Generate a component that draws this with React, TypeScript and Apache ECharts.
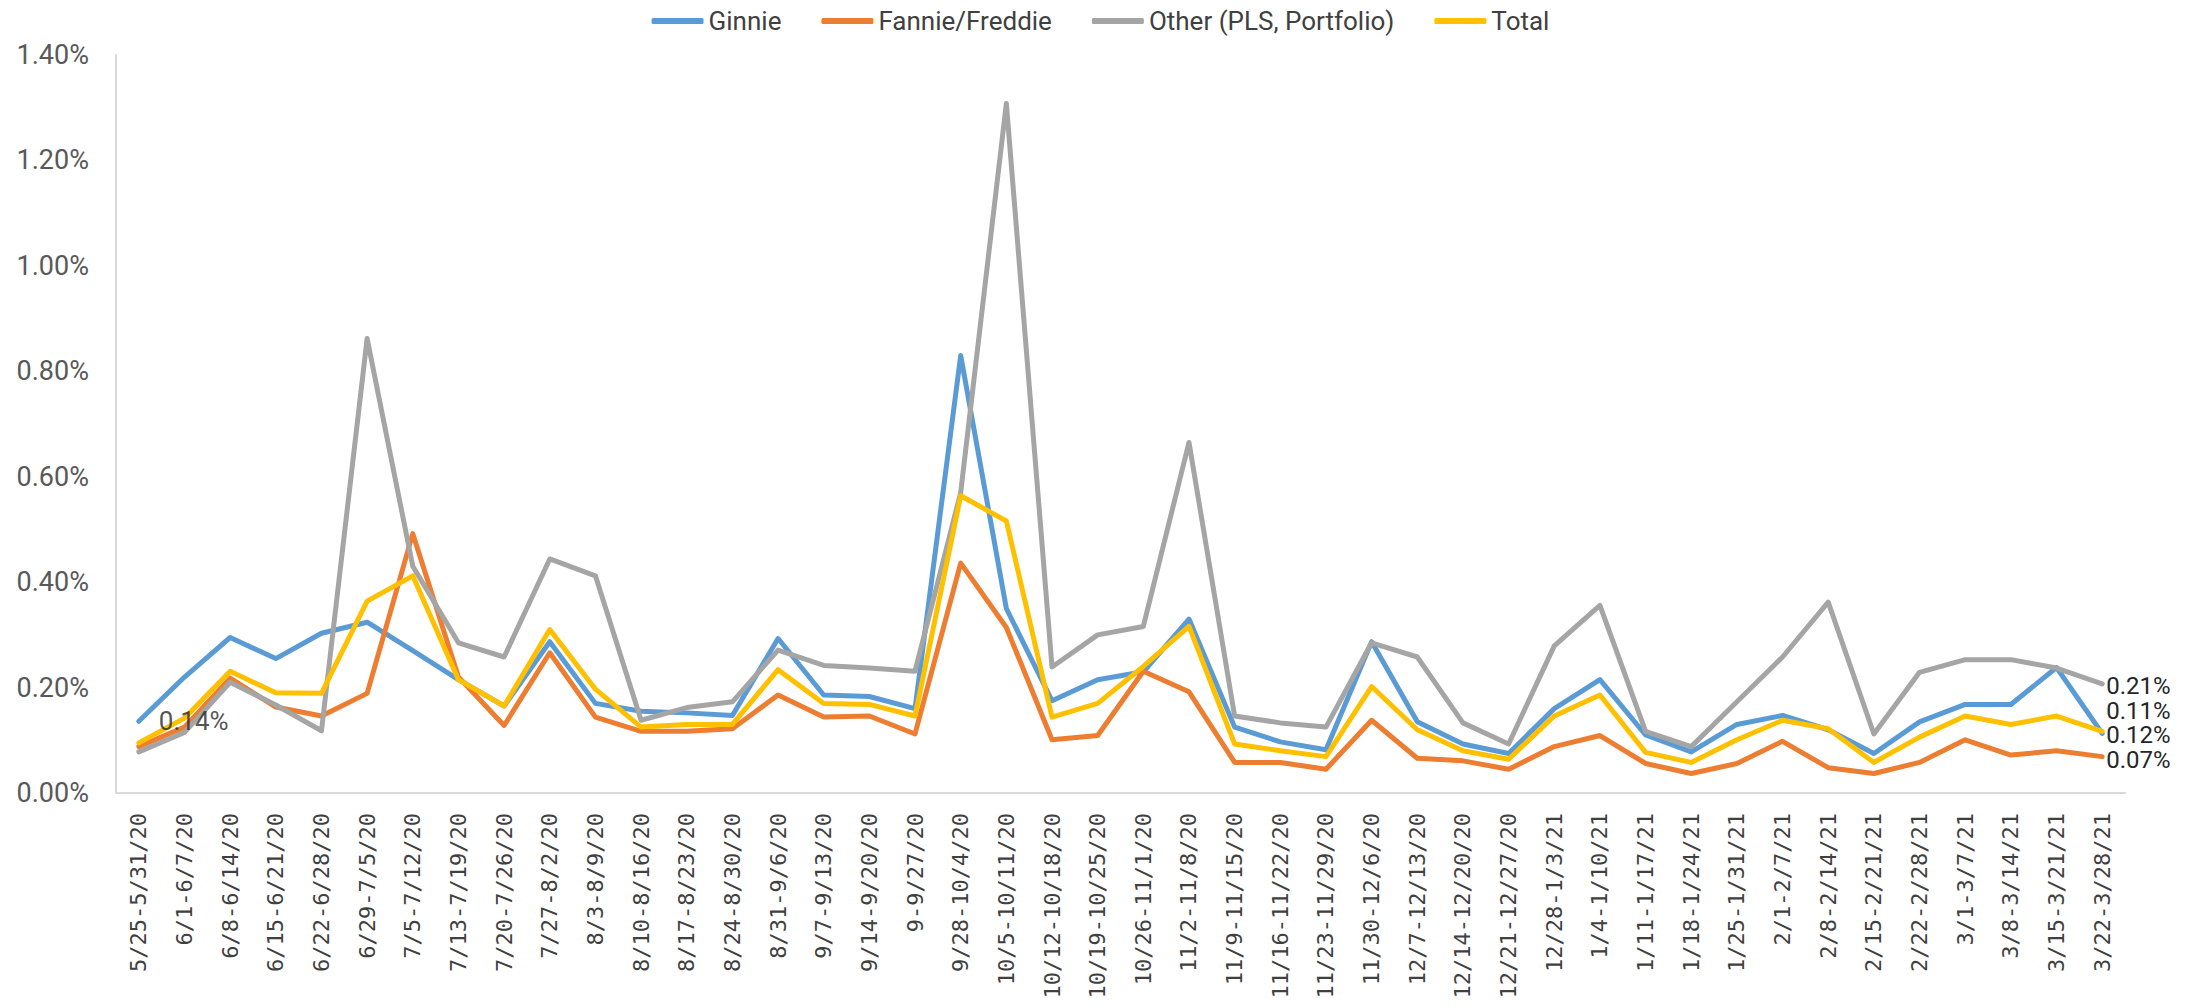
import React, { useEffect, useRef } from "react";
import * as echarts from "echarts";

const categories = [
  "5/25-5/31/20", "6/1-6/7/20", "6/8-6/14/20", "6/15-6/21/20", "6/22-6/28/20",
  "6/29-7/5/20", "7/5-7/12/20", "7/13-7/19/20", "7/20-7/26/20", "7/27-8/2/20",
  "8/3-8/9/20", "8/10-8/16/20", "8/17-8/23/20", "8/24-8/30/20", "8/31-9/6/20",
  "9/7-9/13/20", "9/14-9/20/20", "9-9/27/20", "9/28-10/4/20", "10/5-10/11/20",
  "10/12-10/18/20", "10/19-10/25/20", "10/26-11/1/20", "11/2-11/8/20", "11/9-11/15/20",
  "11/16-11/22/20", "11/23-11/29/20", "11/30-12/6/20", "12/7-12/13/20", "12/14-12/20/20",
  "12/21-12/27/20", "12/28-1/3/21", "1/4-1/10/21", "1/11-1/17/21", "1/18-1/24/21",
  "1/25-1/31/21", "2/1-2/7/21", "2/8-2/14/21", "2/15-2/21/21", "2/22-2/28/21",
  "3/1-3/7/21", "3/8-3/14/21", "3/15-3/21/21", "3/22-3/28/21",
];

const ginnie = [
  0.136, 0.22, 0.295, 0.255, 0.303, 0.324, 0.27, 0.215, 0.165, 0.287,
  0.17, 0.155, 0.152, 0.147, 0.293, 0.186, 0.183, 0.16, 0.83, 0.35,
  0.175, 0.215, 0.23, 0.33, 0.125, 0.097, 0.082, 0.287, 0.135, 0.093,
  0.075, 0.16, 0.215, 0.11, 0.078, 0.13, 0.147, 0.12, 0.075, 0.135,
  0.168, 0.168, 0.238, 0.113,
];

const fannieFreddie = [
  0.088, 0.125, 0.218, 0.163, 0.146, 0.189, 0.492, 0.22, 0.128, 0.266,
  0.144, 0.117, 0.117, 0.122, 0.186, 0.144, 0.146, 0.112, 0.436, 0.314,
  0.101, 0.109, 0.231, 0.192, 0.058, 0.058, 0.045, 0.138, 0.066, 0.061,
  0.045, 0.088, 0.109, 0.056, 0.037, 0.056, 0.098, 0.048, 0.037, 0.058,
  0.101, 0.072, 0.08, 0.069,
];

const other = [
  0.078, 0.115, 0.21, 0.167, 0.118, 0.862, 0.43, 0.285, 0.258, 0.444,
  0.412, 0.138, 0.162, 0.173, 0.271, 0.242, 0.237, 0.231, 0.57, 1.308,
  0.239, 0.3, 0.316, 0.665, 0.146, 0.133, 0.125, 0.285, 0.258, 0.133,
  0.093, 0.279, 0.356, 0.117, 0.088, 0.173, 0.258, 0.362, 0.112, 0.229,
  0.253, 0.253, 0.237, 0.207,
];

const total = [
  0.095, 0.142, 0.231, 0.19, 0.189, 0.364, 0.412, 0.215, 0.165, 0.31,
  0.197, 0.125, 0.13, 0.13, 0.234, 0.17, 0.168, 0.146, 0.564, 0.516,
  0.144, 0.17, 0.24, 0.316, 0.093, 0.08, 0.069, 0.202, 0.12, 0.08,
  0.064, 0.146, 0.186, 0.077, 0.058, 0.101, 0.138, 0.122, 0.058, 0.106,
  0.146, 0.13, 0.146, 0.117,
];

const yTicks = { min: 0, max: 1.4, interval: 0.2 };

const seriesNames = ["Ginnie", "Fannie/Freddie", "Other (PLS, Portfolio)", "Total"];
const seriesColors = ["#5B9BD5", "#ED7D31", "#A5A5A5", "#FFC000"];

const pct = (v: number) => `${v.toFixed(2)}%`;

const labelStyle = {
  show: true,
  position: "right" as const,
  distance: 4,
  fontFamily: "Roboto",
  fontSize: 24,
  lineHeight: 22,
  color: "#262626",
  formatter: (p: any) => pct(Array.isArray(p.value) ? p.value[1] : p.value),
};

function withLabels(values: number[], labels: { index: number; offset: number[] }[]) {
  return values.map((v, i) => {
    const l = labels.find((x) => x.index === i);
    if (!l) return v;
    return { value: v, label: { ...labelStyle, offset: l.offset } };
  });
}

export default function App() {
  const ref = useRef<HTMLDivElement>(null);

  useEffect(() => {
    if (!ref.current) return;
    const chart = echarts.init(ref.current, undefined, { renderer: "svg" });
    const last = categories.length - 1;
    const dataSets = [
      withLabels(ginnie, [{ index: last, offset: [0, -22] }]),
      withLabels(fannieFreddie, [{ index: last, offset: [0, 3] }]),
      withLabels(other, [{ index: last, offset: [0, 2] }]),
      withLabels(total, [{ index: last, offset: [0, 4] }]),
    ];

    const lineSeries = seriesNames.map((name, i) => ({
      name,
      type: "line",
      data: dataSets[i],
      color: seriesColors[i],
      symbol: "circle",
      symbolSize: 0,
      showSymbol: true,
      lineStyle: { width: 5, color: seriesColors[i], cap: "round", join: "round" },
      label: { show: false },
      emphasis: { disabled: true },
      z: 2 + i,
    }));

    chart.setOption({
      animation: false,
      backgroundColor: "#ffffff",
      legend: {
        top: 3,
        left: "center",
        itemWidth: 52,
        itemHeight: 6,
        itemGap: 40,
        icon: "roundRect",
        textStyle: { fontFamily: "Roboto", fontSize: 26, color: "#404040" },
        data: seriesNames,
      },
      grid: { left: 116, right: 76, top: 55, bottom: 215, containLabel: false },
      xAxis: {
        type: "category",
        data: categories,
        boundaryGap: true,
        axisLine: { show: true, lineStyle: { color: "#D9D9D9", width: 2 } },
        axisTick: { show: false },
        axisLabel: {
          interval: 0,
          rotate: 90,
          margin: 20,
          fontFamily: "DejaVu Sans Mono",
          fontSize: 22,
          color: "#404040",
        },
        splitLine: { show: false },
      },
      yAxis: {
        type: "value",
        min: yTicks.min,
        max: yTicks.max,
        interval: yTicks.interval,
        axisLine: { show: true, lineStyle: { color: "#D9D9D9", width: 2 } },
        axisTick: { show: false },
        splitLine: { show: false },
        axisLabel: {
          margin: 27,
          fontFamily: "Roboto",
          fontSize: 27,
          color: "#595959",
          formatter: (v: number) => pct(v),
        },
      },
      series: [
        ...lineSeries,
        {
          name: "Ginnie first label",
          type: "scatter",
          data: [[0, ginnie[0]]],
          symbolSize: 0,
          silent: true,
          z: 20,
          label: { ...labelStyle, fontSize: 26, offset: [16, 0] },
        },
      ],
    });

    return () => chart.dispose();
  }, []);

  return (
    <div
      ref={ref}
      style={{ position: "fixed", left: 0, top: 0, width: 2201, height: 1008, background: "#fff" }}
    />
  );
}
